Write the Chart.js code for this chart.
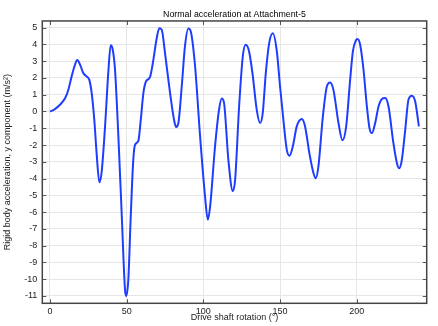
<!DOCTYPE html>
<html lang="en">
<head>
<meta charset="UTF-8">
<title>Normal acceleration at Attachment-5</title>
<script src="https://cdn.jsdelivr.net/npm/chart.js"></script>
<style>
    html, body { margin: 0; padding: 0; background: #fff; }
    #chart { display: block; }
</style>
</head>
<body>
<canvas id="chart" width="438" height="326"></canvas>
<script>
    // drive shaft rotation (deg) and y acceleration (m/s^2)
    const rotationDeg = [
        0, 3, 6.5, 10, 12, 14, 16.3, 17.8, 19.6, 21.7, 23.9, 25.6, 27.2, 28.9, 30.4, 32.2, 33.7, 35.9,
        38, 39.6, 40.9, 42.4, 44.6, 46.8, 48.9, 49.7, 51.1, 52.6, 54.3, 55.4, 57.6, 59.2, 60.9, 62.6,
        65.2, 67.4, 69.6, 71.3, 72.9, 75, 78.3, 80.9, 82.2, 83.7, 85.9, 88, 90.2, 91.8, 94.6, 97.8,
        101.1, 102.9, 104.4, 107.6, 110.2, 112, 113.5, 116.3, 119.2, 120.7, 123.3, 125.7, 127.6, 129.8,
        132, 134.8, 137, 138.7, 140.7, 142.9, 145.3, 147.9, 150, 152.6, 154.4, 156.1, 158.3, 160.9,
        164.2, 166.3, 169.1, 171.8, 173.3, 175, 177.9, 180.5, 182.6, 184.8, 188.1, 190.7, 193.1, 195.7,
        197.5, 199.5, 200.5, 202.2, 204.4, 206.6, 208.3, 209.9, 212, 214.2, 216.4, 218.5, 220.7, 223.9,
        226.2, 227.7, 229.4, 231.6, 233.7, 235.9, 238.1, 240.5
    ];
    const accelY = [
        0, 0.13, 0.4, 0.82, 1.3, 2.05, 2.79, 3.07, 2.8, 2.3, 2.09, 1.9, 1.1, -0.5, -2.48, -4.22, -3.6, -0.9,
        2.3, 3.95, 3.7, 2.5, -1.5, -6.2, -10.6, -11.0, -10.0, -6.4, -2.9, -2.0, -1.75, -0.5, 1.1, 1.79,
        2.05, 3.08, 4.38, 4.97, 4.87, 3.48, 1.1, -0.5, -0.93, -0.69, 1.49, 3.88, 4.95, 4.77, 2.7, -1.4,
        -5.07, -6.45, -5.67, -2.09, 0.1, 0.78, 0.5, -2.88, -4.75, -4.08, 0.3, 3.28, 3.98, 3.58,
        2.29, 0.1, -0.69, -0.1, 2.29, 4.08, 4.66, 3.58, 1.49, -0.89, -2.29, -2.64, -2.09, -0.89,
        -0.45, -0.89, -2.48, -3.68, -3.98, -3.28, -0.3, 1.49, 1.73, 1.29, -0.69, -1.72, -0.89, 1.9,
        3.6, 4.25, 4.32, 3.98, 2.49, 0.3, -0.99, -1.29, -0.69, 0.3, 0.74, 0.8, 0.3, -1.89,
        -3.08, -3.38, -2.88, -1.09, 0.7, 0.94, 0.6, -0.89
    ];
    const xTicks = [0, 50, 100, 150, 200];
    const yTicks = [-11, -10, -9, -8, -7, -6, -5, -4, -3, -2, -1, 0, 1, 2, 3, 4, 5];

    const fontFamily = "'Liberation Sans', Arial, sans-serif";

    // box around the plot + small inward ticks on all four sides
    const framePlugin = {
        id: 'frame',
        afterDraw(chart) {
            const c = chart.ctx;
            const a = chart.chartArea;
            const xs = chart.scales.x;
            const ys = chart.scales.y;
            c.save();
            c.strokeStyle = '#555';
            c.lineWidth = 1;
            xTicks.forEach(v => {
                const px = Math.round(xs.getPixelForValue(v)) + 0.5;
                c.beginPath();
                c.moveTo(px, a.top); c.lineTo(px, a.top + 4);
                c.moveTo(px, a.bottom); c.lineTo(px, a.bottom - 4);
                c.stroke();
            });
            yTicks.forEach(v => {
                const py = Math.round(ys.getPixelForValue(v)) + 0.5;
                c.beginPath();
                c.moveTo(a.left, py); c.lineTo(a.left + 4, py);
                c.moveTo(a.right, py); c.lineTo(a.right - 4, py);
                c.stroke();
            });
            c.lineWidth = 1.5;
            c.strokeStyle = '#444';
            c.strokeRect(a.left, a.top, a.right - a.left, a.bottom - a.top);
            c.restore();
        }
    };

    const ctx = document.getElementById('chart').getContext('2d');
    const chart = new Chart(ctx, {
        type: 'line',
        data: {
            datasets: [{
                data: rotationDeg.map((x, i) => ({ x: x, y: accelY[i] })),
                borderColor: '#1f3dff',
                borderWidth: 2,
                pointRadius: 0,
                fill: false,
                cubicInterpolationMode: 'monotone'
            }]
        },
        options: {
            responsive: false,
            animation: false,
            layout: { padding: { left: 0, right: 11.3, top: 0, bottom: 0 } },
            plugins: {
                legend: { display: false },
                tooltip: { enabled: false },
                title: {
                    display: true,
                    text: 'Normal acceleration at Attachment-5',
                    fullSize: false,
                    color: '#000',
                    font: { family: fontFamily, size: 8.8, weight: 'normal' },
                    padding: { top: 9.7, bottom: 0.7 }
                }
            },
            scales: {
                x: {
                    type: 'linear',
                    min: -5,
                    max: 245.6,
                    afterFit: s => { s.height = 22.7; },
                    afterBuildTicks: s => { s.ticks = xTicks.map(v => ({ value: v })); },
                    grid: { color: '#e6e6e6', drawTicks: false },
                    border: { display: false },
                    ticks: {
                        color: '#222',
                        padding: 3,
                        maxRotation: 0,
                        font: { family: fontFamily, size: 9 }
                    },
                    title: {
                        display: true,
                        text: 'Drive shaft rotation (°)',
                        color: '#222',
                        font: { family: fontFamily, size: 9 },
                        padding: { top: 0, bottom: 2.9 }
                    }
                },
                y: {
                    type: 'linear',
                    min: -11.44,
                    max: 5.4,
                    afterFit: s => { s.width = 42.3; },
                    afterBuildTicks: s => { s.ticks = yTicks.map(v => ({ value: v })); },
                    grid: { color: '#e6e6e6', drawTicks: false },
                    border: { display: false },
                    ticks: {
                        color: '#222',
                        padding: 5,
                        font: { family: fontFamily, size: 9 }
                    },
                    title: {
                        display: true,
                        text: 'Rigid body acceleration, y component (m/s²)',
                        color: '#222',
                        font: { family: fontFamily, size: 9 },
                        padding: { top: 1.9, bottom: 0 }
                    }
                }
            }
        },
        plugins: [framePlugin]
    });
</script>
</body>
</html>
